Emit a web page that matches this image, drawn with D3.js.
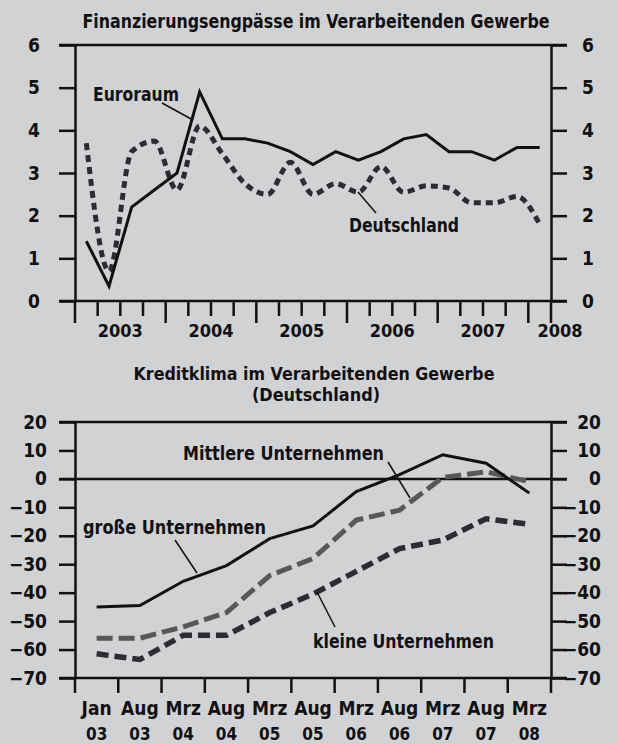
<!DOCTYPE html>
<html>
<head>
<meta charset="utf-8">
<script src="https://cdn.jsdelivr.net/npm/d3@7"></script>
<style>
  body { margin: 0; background: #d1d2d4; }
  svg { display: block; }
  text { font-family: "Liberation Sans Narrow", "DejaVu Sans Condensed", "Liberation Sans", sans-serif; font-weight: bold; fill: #111; }
</style>
</head>
<body>
<div id="chart"></div>
<script>
// --- Chart 1: Finanzierungsengpässe (quarterly) ---
const quarters = ["2003Q1","2003Q2","2003Q3","2003Q4","2004Q1","2004Q2","2004Q3","2004Q4",
    "2005Q1","2005Q2","2005Q3","2005Q4","2006Q1","2006Q2","2006Q3","2006Q4",
    "2007Q1","2007Q2","2007Q3","2007Q4","2008Q1"];
const years = ["2003","2004","2005","2006","2007","2008"];
const euroraum = [1.4,0.35,2.2,2.6,3.0,4.9,3.8,3.8,3.7,3.5,3.2,3.5,3.3,3.5,3.8,3.9,3.5,3.5,3.3,3.6,3.6];
const deutschland = [3.7,0.7,3.5,3.75,2.6,4.1,3.45,2.75,2.5,3.25,2.5,2.75,2.55,3.15,2.55,2.7,2.65,2.3,2.3,2.45,1.8];
const yTicksTop = [0,1,2,3,4,5,6];

// --- Chart 2: Kreditklima (Deutschland) ---
const monthLabels = ["Jan","Aug","Mrz","Aug","Mrz","Aug","Mrz","Aug","Mrz","Aug","Mrz"];
const yearLabels = ["03","03","04","04","05","05","06","06","07","07","08"];
const grosse = [-45,-44.5,-36,-30.5,-21,-16.5,-4.5,1.5,8.5,5.5,-5];
const mittlere = [-56,-56,-52,-47,-34,-28,-14.5,-11,0.5,2.5,-1];
const kleine = [-61.5,-63.5,-55,-55,-47,-40.5,-32.5,-24.5,-21.5,-14,-16];
const yTicksBottom = [20,10,0,-10,-20,-30,-40,-50,-60,-70];

const W = 618, H = 744;
const left = 75, right = 551, gridL = 59, gridR = 567;

const svg = d3.select("#chart").append("svg")
    .attr("width", W)
    .attr("height", H);

svg.append("rect").attr("width", W).attr("height", H).attr("fill", "#d1d2d4");

function fit(sel, w) {
    return sel.attr("textLength", w).attr("lengthAdjust", "spacingAndGlyphs");
}

function hline(y) {
    svg.append("line")
        .attr("x1", gridL).attr("x2", gridR)
        .attr("y1", y).attr("y2", y)
        .attr("stroke", "#111").attr("stroke-width", 2.5);
}

function styleAxis(g) {
    g.select(".domain").attr("stroke", "#111").attr("stroke-width", 2.5);
    g.selectAll(".tick line").attr("stroke", "#111").attr("stroke-width", 2.5);
    g.selectAll(".tick text").attr("fill", "#111").style("font-size", "19px");
}

const fmt = d3.format("d");

// ================= chart 1 =================
const x1 = d3.scaleBand().domain(quarters).range([left, right]);
const y1 = d3.scaleLinear().domain([0, 6]).range([301, 45]);

fit(svg.append("text")
    .attr("x", 316).attr("y", 28)
    .attr("text-anchor", "middle")
    .style("font-size", "19px")
    .text("Finanzierungsengpässe im Verarbeitenden Gewerbe"), 467);

hline(y1(6));
hline(y1(0));

svg.append("g")
    .attr("transform", `translate(${left},0)`)
    .call(d3.axisLeft(y1).tickValues(yTicksTop).tickFormat(fmt).tickSize(16).tickSizeOuter(0).tickPadding(19))
    .call(styleAxis);

svg.append("g")
    .attr("transform", `translate(${right},0)`)
    .call(d3.axisRight(y1).tickValues(yTicksTop).tickFormat(fmt).tickSize(16).tickSizeOuter(0).tickPadding(15))
    .call(styleAxis);

// quarter ticks below zero line
const qTicks = quarters.map((q, i) => ({pos: x1(q), long: i % 4 === 0}));
qTicks.push({pos: x1.range()[1], long: true});
svg.selectAll(".qtick")
    .data(qTicks)
    .enter()
    .append("line")
    .attr("class", "qtick")
    .attr("x1", d => d.pos).attr("x2", d => d.pos)
    .attr("y1", y1(0)).attr("y2", d => y1(0) + (d.long ? 22 : 15))
    .attr("stroke", "#111").attr("stroke-width", 2.5);

// year labels centred on each year, last one squeezed at the right edge
svg.selectAll(".yearlbl")
    .data(years)
    .enter()
    .append("text")
    .attr("class", "yearlbl")
    .attr("x", (d, i) => i < years.length - 1 ? x1(d + "Q3") : right + 9)
    .attr("y", 337)
    .attr("text-anchor", "middle")
    .style("font-size", "18px")
    .text(d => d);

const line1 = d3.line()
    .x((d, i) => x1(quarters[i]) + x1.bandwidth() / 2)
    .y(d => y1(d));

svg.append("path")
    .datum(deutschland)
    .attr("fill", "none")
    .attr("stroke", "#2e2b33")
    .attr("stroke-width", 5)
    .attr("stroke-dasharray", "7,5")
    .attr("d", line1.curve(d3.curveMonotoneX));

svg.append("path")
    .datum(euroraum)
    .attr("fill", "none")
    .attr("stroke", "#111")
    .attr("stroke-width", 3)
    .attr("d", line1.curve(d3.curveLinear));

// annotations chart 1
fit(svg.append("text").attr("x", 93).attr("y", 101).style("font-size", "20px").text("Euroraum"), 86);
svg.append("line").attr("x1", 162).attr("y1", 103).attr("x2", 193).attr("y2", 120)
    .attr("stroke", "#111").attr("stroke-width", 1.5);

fit(svg.append("text").attr("x", 349).attr("y", 232).style("font-size", "20px").text("Deutschland"), 110);
svg.append("line").attr("x1", 358).attr("y1", 192).attr("x2", 376).attr("y2", 213)
    .attr("stroke", "#111").attr("stroke-width", 1.5);

// ================= chart 2 =================
const x2 = d3.scaleBand().domain(d3.range(monthLabels.length)).range([left, right]);
const y2 = d3.scaleLinear().domain([-70, 20]).range([678, 422]);

fit(svg.append("text")
    .attr("x", 314).attr("y", 380)
    .attr("text-anchor", "middle")
    .style("font-size", "17.5px")
    .text("Kreditklima im Verarbeitenden Gewerbe"), 361);
fit(svg.append("text")
    .attr("x", 316).attr("y", 401)
    .attr("text-anchor", "middle")
    .style("font-size", "17.5px")
    .text("(Deutschland)"), 128);

hline(y2(20));
hline(y2(0));
hline(y2(-70));

svg.append("g")
    .attr("transform", `translate(${left},0)`)
    .call(d3.axisLeft(y2).tickValues(yTicksBottom).tickSize(16).tickSizeOuter(0).tickPadding(12))
    .call(styleAxis);

const rightAxis2 = svg.append("g")
    .attr("transform", `translate(${right},0)`)
    .call(d3.axisRight(y2).tickValues(yTicksBottom).tickSize(16).tickSizeOuter(0))
    .call(styleAxis);
rightAxis2.selectAll(".tick text").attr("x", 50).attr("text-anchor", "end");

// band ticks below -70 line
const mTicks = x2.domain().map(i => x2(i));
mTicks.push(x2.range()[1]);
svg.selectAll(".mtick")
    .data(mTicks)
    .enter()
    .append("line")
    .attr("class", "mtick")
    .attr("x1", d => d).attr("x2", d => d)
    .attr("y1", y2(-70)).attr("y2", y2(-70) + 15)
    .attr("stroke", "#111").attr("stroke-width", 2.5);

svg.selectAll(".mlbl")
    .data(monthLabels)
    .enter()
    .append("text")
    .attr("class", "mlbl")
    .attr("x", (d, i) => x2(i) + x2.bandwidth() / 2)
    .attr("y", 715)
    .attr("text-anchor", "middle")
    .style("font-size", "19px")
    .text(d => d);

svg.selectAll(".ylbl")
    .data(yearLabels)
    .enter()
    .append("text")
    .attr("class", "ylbl")
    .attr("x", (d, i) => x2(i) + x2.bandwidth() / 2)
    .attr("y", 740)
    .attr("text-anchor", "middle")
    .style("font-size", "17px")
    .text(d => d);

const line2 = d3.line()
    .x((d, i) => x2(i) + x2.bandwidth() / 2)
    .y(d => y2(d));

svg.append("path")
    .datum(kleine)
    .attr("fill", "none")
    .attr("stroke", "#2e2b33")
    .attr("stroke-width", 5.5)
    .attr("stroke-dasharray", "12,6")
    .attr("d", line2);

svg.append("path")
    .datum(mittlere)
    .attr("fill", "none")
    .attr("stroke", "#58585b")
    .attr("stroke-width", 5)
    .attr("stroke-dasharray", "16,6")
    .attr("d", line2);

svg.append("path")
    .datum(grosse)
    .attr("fill", "none")
    .attr("stroke", "#111")
    .attr("stroke-width", 3)
    .attr("d", line2);

// annotations chart 2
fit(svg.append("text").attr("x", 183).attr("y", 460).style("font-size", "19px").text("Mittlere Unternehmen"), 201);
svg.append("line").attr("x1", 388).attr("y1", 462).attr("x2", 410).attr("y2", 498)
    .attr("stroke", "#111").attr("stroke-width", 1.5);

fit(svg.append("text").attr("x", 83).attr("y", 534).style("font-size", "19px").text("große Unternehmen"), 183);
svg.append("line").attr("x1", 175).attr("y1", 540).attr("x2", 197).attr("y2", 573)
    .attr("stroke", "#111").attr("stroke-width", 1.5);

fit(svg.append("text").attr("x", 313).attr("y", 648).style("font-size", "19px").text("kleine Unternehmen"), 181);
svg.append("line").attr("x1", 335).attr("y1", 627).attr("x2", 317).attr("y2", 592)
    .attr("stroke", "#111").attr("stroke-width", 1.5);
</script>
</body>
</html>
